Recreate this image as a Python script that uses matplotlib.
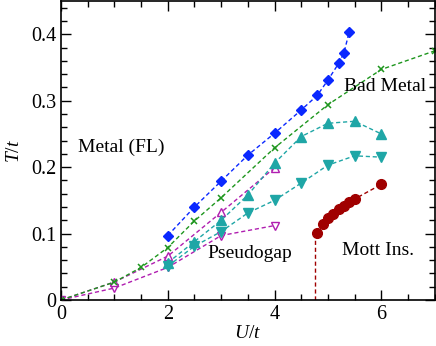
import numpy as np
import matplotlib
matplotlib.use("Agg")
import matplotlib.pyplot as plt
from matplotlib.ticker import MultipleLocator

plt.rcParams['font.family'] = ['Liberation Serif', 'DejaVu Serif']
plt.rcParams['mathtext.fontset'] = 'custom'
plt.rcParams['mathtext.it'] = 'Liberation Serif:italic'
plt.rcParams['mathtext.rm'] = 'Liberation Serif'

# data
U_blue = [2.0, 2.5, 3.0, 3.5, 4.0, 4.5, 4.8, 5.0, 5.2, 5.3, 5.4]
T_blue = [0.097, 0.140, 0.179, 0.218, 0.251, 0.286, 0.308, 0.331, 0.356, 0.372, 0.404]

U_green = [0, 1.0, 1.5, 2.0, 2.5, 3.0, 4.0, 5.0, 6.0, 7.0]
T_green = [0, 0.027, 0.049, 0.079, 0.119, 0.154, 0.229, 0.294, 0.347, 0.375]

U_pu = [0, 1, 2, 3, 4]
T_pu = [0, 0.027, 0.066, 0.132, 0.199]

U_pd = [0, 1, 2, 3, 4]
T_pd = [0, 0.018, 0.049, 0.097, 0.112]

U_cu = [2.0, 2.5, 3.0, 3.5, 4.0, 4.5, 5.0, 5.5, 6.0]
T_cu = [0.056, 0.088, 0.120, 0.158, 0.206, 0.246, 0.266, 0.269, 0.250]

U_cd = [2.0, 2.5, 3.0, 3.5, 4.0, 4.5, 5.0, 5.5, 6.0]
T_cd = [0.051, 0.081, 0.103, 0.131, 0.150, 0.176, 0.203, 0.217, 0.215]

U_red = [4.8, 4.9, 5.0, 5.1, 5.2, 5.3, 5.4, 5.5, 6.0]
T_red = [0.101, 0.115, 0.124, 0.130, 0.137, 0.142, 0.147, 0.152, 0.174]
U_mott = [4.75, 4.75]
T_mott = [0, 0.101]

blue = '#0a28ff'
green = '#1e961e'
purple = '#b01eb0'
cyan = '#1fa6a6'
red = '#a00000'

fig = plt.figure(figsize=(4.36, 3.46), dpi=100)
ax = fig.add_axes([0.14, 0.133, 0.857, 0.864])

lw = 1.0
dash = (3, 2)
ax.plot(U_mott, T_mott, '--', color=red, lw=lw, dashes=dash)
ax.plot(U_pd, T_pd, '--', color=purple, lw=lw, dashes=dash, marker='v', ms=6, mfc='white', mec=purple)
ax.plot(U_pu, T_pu, '--', color=purple, lw=lw, dashes=dash, marker='^', ms=6, mfc='white', mec=purple)
ax.plot(U_cd, T_cd, '--', color=cyan, lw=lw, dashes=dash, marker='v', ms=6.5)
ax.plot(U_cu, T_cu, '--', color=cyan, lw=lw, dashes=dash, marker='^', ms=6.5)
ax.plot(U_green, T_green, '--', color=green, lw=lw, dashes=dash, marker='x', ms=5, mew=1.1)
ax.plot(U_blue, T_blue, '--', color=blue, lw=lw, dashes=dash, marker='D', ms=5.5)
ax.plot(U_red, T_red, '--', color=red, lw=lw, dashes=dash, marker='o', ms=7)

ax.set_xlim(0, 7)
ax.set_ylim(0, 0.45)
ax.xaxis.set_major_locator(MultipleLocator(2))
ax.xaxis.set_minor_locator(MultipleLocator(0.5))
ax.yaxis.set_major_locator(MultipleLocator(0.1))
ax.yaxis.set_minor_locator(MultipleLocator(0.02))
ax.set_yticks([0, 0.1, 0.2, 0.3, 0.4], ['0', '0.1', '0.2', '0.3', '0.4'])
ax.tick_params(which='both', direction='in', top=True, right=True, labelsize=14.5, width=1)
ax.tick_params(which='major', length=7)
ax.tick_params(which='minor', length=4)
for s in ax.spines.values():
    s.set_linewidth(1.2)

ax.set_xlabel('$U/t$', fontsize=14, labelpad=1)
ax.set_ylabel('$T/t$', fontsize=14, labelpad=6)

ax.text(0.32, 0.23, 'Metal (FL)', fontsize=14, va='center')
ax.text(5.3, 0.321, 'Bad Metal', fontsize=14, va='center')
ax.text(2.75, 0.07, 'Pseudogap', fontsize=14, va='center')
ax.text(5.27, 0.075, 'Mott Ins.', fontsize=14, va='center')

fig.savefig('out.png', dpi=100)
